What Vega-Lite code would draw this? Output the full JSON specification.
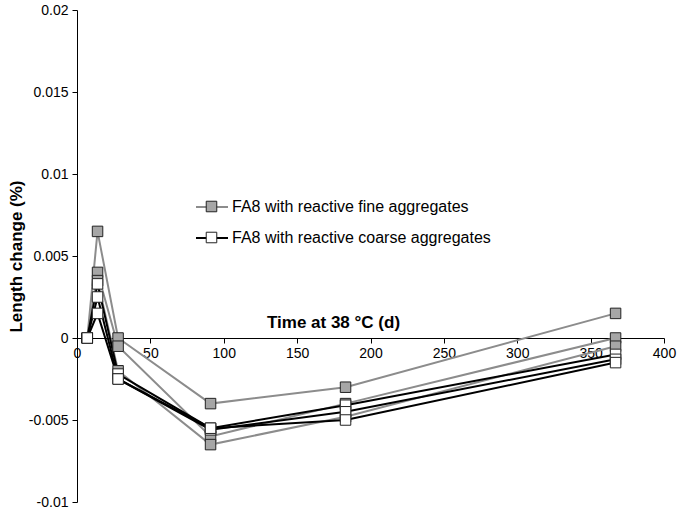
{
  "$schema": "https://vega.github.io/schema/vega-lite/v6.json",
  "width": 587,
  "height": 492,
  "autosize": {"type": "none"},
  "padding": {"left": 77, "top": 10, "right": 21, "bottom": 11},
  "background": "white",
  "config": {
    "view": {"stroke": null},
    "font": "Liberation Sans",
    "axis": {
      "grid": false,
      "domainColor": "#000",
      "domainWidth": 1,
      "tickColor": "#000",
      "tickSize": 5,
      "labelColor": "#000",
      "titleColor": "#000",
      "labelFont": "Liberation Sans",
      "titleFont": "Liberation Sans",
      "labelFontSize": 14,
      "titleFontSize": 17,
      "titleFontWeight": "bold"
    },
    "legend": {
      "labelFont": "Liberation Sans",
      "labelFontSize": 16,
      "labelColor": "#000",
      "labelLimit": 0,
      "padding": 0
    }
  },
  "data": {
    "values": [
      {"series": "F1", "type": "FA8 with reactive fine aggregates", "day": 7, "value": 0},
      {"series": "F1", "type": "FA8 with reactive fine aggregates", "day": 14, "value": 0.0065},
      {"series": "F1", "type": "FA8 with reactive fine aggregates", "day": 28, "value": 0},
      {"series": "F1", "type": "FA8 with reactive fine aggregates", "day": 91, "value": -0.004},
      {"series": "F1", "type": "FA8 with reactive fine aggregates", "day": 183, "value": -0.003},
      {"series": "F1", "type": "FA8 with reactive fine aggregates", "day": 367, "value": 0.0015},
      {"series": "F2", "type": "FA8 with reactive fine aggregates", "day": 7, "value": 0},
      {"series": "F2", "type": "FA8 with reactive fine aggregates", "day": 14, "value": 0.004},
      {"series": "F2", "type": "FA8 with reactive fine aggregates", "day": 28, "value": -0.0005},
      {"series": "F2", "type": "FA8 with reactive fine aggregates", "day": 91, "value": -0.006},
      {"series": "F2", "type": "FA8 with reactive fine aggregates", "day": 183, "value": -0.004},
      {"series": "F2", "type": "FA8 with reactive fine aggregates", "day": 367, "value": 0},
      {"series": "F3", "type": "FA8 with reactive fine aggregates", "day": 7, "value": 0},
      {"series": "F3", "type": "FA8 with reactive fine aggregates", "day": 14, "value": 0.0035},
      {"series": "F3", "type": "FA8 with reactive fine aggregates", "day": 28, "value": -0.002},
      {"series": "F3", "type": "FA8 with reactive fine aggregates", "day": 91, "value": -0.0065},
      {"series": "F3", "type": "FA8 with reactive fine aggregates", "day": 183, "value": -0.0048},
      {"series": "F3", "type": "FA8 with reactive fine aggregates", "day": 367, "value": -0.0005},
      {"series": "C1", "type": "FA8 with reactive coarse aggregates", "day": 7, "value": 0},
      {"series": "C1", "type": "FA8 with reactive coarse aggregates", "day": 14, "value": 0.0033},
      {"series": "C1", "type": "FA8 with reactive coarse aggregates", "day": 28, "value": -0.0022},
      {"series": "C1", "type": "FA8 with reactive coarse aggregates", "day": 91, "value": -0.0055},
      {"series": "C1", "type": "FA8 with reactive coarse aggregates", "day": 183, "value": -0.0041},
      {"series": "C1", "type": "FA8 with reactive coarse aggregates", "day": 367, "value": -0.001},
      {"series": "C2", "type": "FA8 with reactive coarse aggregates", "day": 7, "value": 0},
      {"series": "C2", "type": "FA8 with reactive coarse aggregates", "day": 14, "value": 0.0025},
      {"series": "C2", "type": "FA8 with reactive coarse aggregates", "day": 28, "value": -0.0025},
      {"series": "C2", "type": "FA8 with reactive coarse aggregates", "day": 91, "value": -0.0056},
      {"series": "C2", "type": "FA8 with reactive coarse aggregates", "day": 183, "value": -0.0045},
      {"series": "C2", "type": "FA8 with reactive coarse aggregates", "day": 367, "value": -0.0013},
      {"series": "C3", "type": "FA8 with reactive coarse aggregates", "day": 7, "value": 0},
      {"series": "C3", "type": "FA8 with reactive coarse aggregates", "day": 14, "value": 0.0015},
      {"series": "C3", "type": "FA8 with reactive coarse aggregates", "day": 28, "value": -0.0025},
      {"series": "C3", "type": "FA8 with reactive coarse aggregates", "day": 91, "value": -0.0055},
      {"series": "C3", "type": "FA8 with reactive coarse aggregates", "day": 183, "value": -0.005},
      {"series": "C3", "type": "FA8 with reactive coarse aggregates", "day": 367, "value": -0.0015}
    ]
  },
  "encoding": {
    "x": {
      "field": "day",
      "type": "quantitative",
      "scale": {"domain": [0, 400], "nice": false, "zero": false},
      "axis": {
        "title": "Time at 38 °C (d)",
        "values": [0, 50, 100, 150, 200, 250, 300, 350, 400],
        "offset": -164,
        "labelPadding": 3,
        "labelFlush": false,
        "titleX": 256,
        "titleY": -16,
        "titleAlign": "center",
        "titleBaseline": "middle"
      }
    },
    "y": {
      "field": "value",
      "type": "quantitative",
      "scale": {"domain": [-0.01, 0.02], "nice": false, "zero": false},
      "axis": {
        "title": "Length change (%)",
        "values": [-0.01, -0.005, 0, 0.005, 0.01, 0.015, 0.02],
        "labelExpr": "'' + datum.value",
        "labelPadding": 4,
        "labelFlush": false,
        "titleX": -61,
        "titleY": 246,
        "titleAlign": "center",
        "titleBaseline": "middle",
        "titleAngle": -90
      }
    }
  },
  "layer": [
    {
      "mark": {"type": "line", "strokeWidth": 2},
      "encoding": {
        "detail": {"field": "series"},
        "stroke": {
          "field": "type",
          "type": "nominal",
          "sort": null,
          "scale": {
            "domain": ["FA8 with reactive fine aggregates", "FA8 with reactive coarse aggregates"],
            "range": ["#8c8c8c", "#000000"]
          },
          "legend": {
            "orient": "none",
            "legendX": 118,
            "legendY": 180,
            "title": null,
            "symbolType": "M-1,0H1",
            "symbolSize": 1024,
            "symbolStrokeWidth": 2,
            "labelOffset": 3,
            "rowPadding": 6
          }
        }
      }
    },
    {
      "mark": {"type": "point", "shape": "square", "filled": true, "size": 110, "stroke": "#222", "strokeWidth": 1, "opacity": 1},
      "encoding": {
        "fill": {
          "field": "type",
          "type": "nominal",
          "sort": null,
          "scale": {
            "domain": ["FA8 with reactive fine aggregates", "FA8 with reactive coarse aggregates"],
            "range": ["#a6a6a6", "#ffffff"]
          },
          "legend": {
            "orient": "none",
            "legendX": 118,
            "legendY": 180,
            "title": null,
            "symbolType": "M-0.33,-0.33H0.33V0.33H-0.33Z",
            "symbolSize": 1024,
            "symbolStrokeColor": "#222",
            "symbolStrokeWidth": 1,
            "symbolOpacity": 1,
            "labelOffset": 3,
            "labelOpacity": 0,
            "rowPadding": 6
          }
        }
      }
    }
  ],
  "resolve": {"legend": {"stroke": "independent", "fill": "independent"}}
}
